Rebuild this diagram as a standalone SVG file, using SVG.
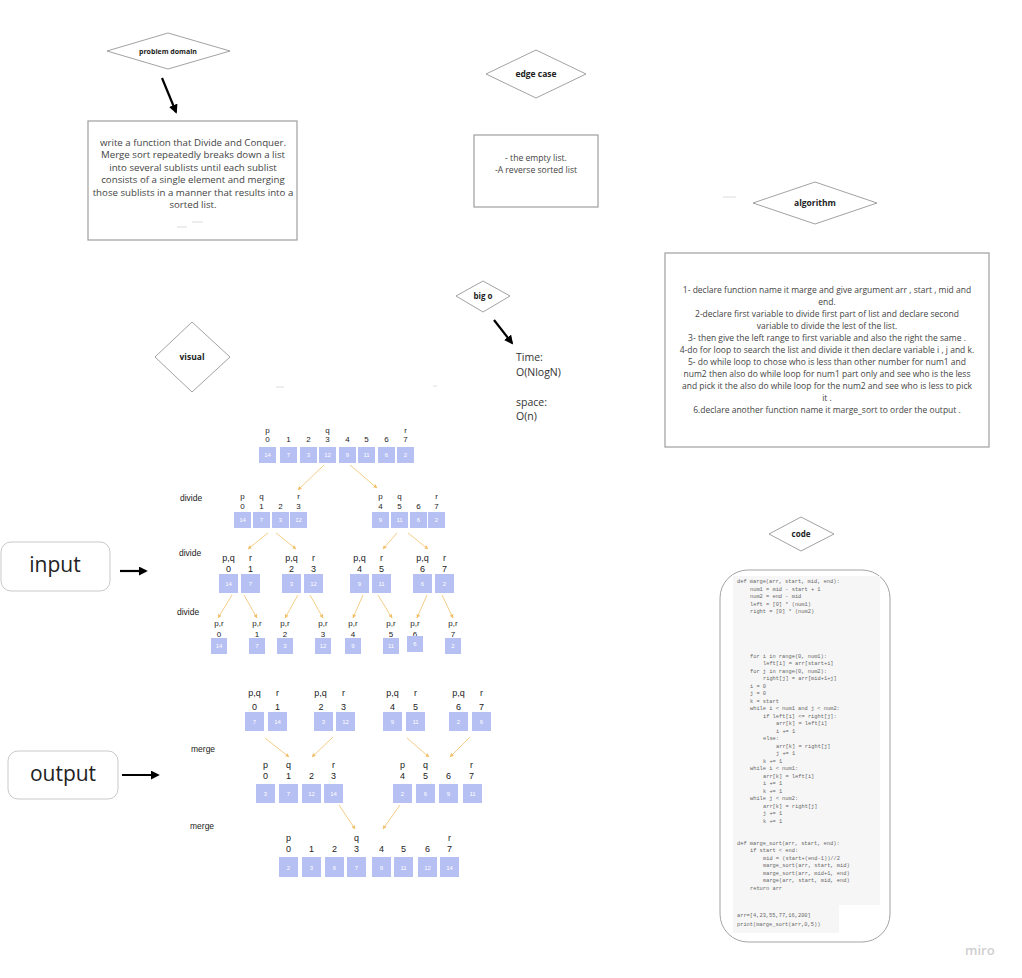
<svg xmlns="http://www.w3.org/2000/svg" width="1022" height="978" viewBox="0 0 1022 978">
<defs>
<marker id="ah" viewBox="0 0 10 10" refX="8" refY="5" markerWidth="9" markerHeight="9" markerUnits="userSpaceOnUse" orient="auto"><path d="M0,0 L10,5 L0,10 z" fill="#000"/></marker>
<marker id="oh" viewBox="0 0 10 10" refX="9" refY="5" markerWidth="4" markerHeight="4" markerUnits="userSpaceOnUse" orient="auto"><path d="M0,0 L10,5 L0,10 z" fill="#f3c06a"/></marker>
</defs>
<style>
.dm{fill:#fff;stroke:#8a8a8a;stroke-width:0.8}
.bx{fill:#fff;stroke:#a6a6a6;stroke-width:1.3}
.dt{font-family:"Open Sans",sans-serif;font-weight:bold;fill:#222;text-anchor:middle}
.tx{font-family:"Open Sans",sans-serif;fill:#444;text-anchor:middle}
.c{fill:#b6c0f3}
.cn{font-family:"Liberation Sans",sans-serif;font-size:6px;fill:#fff;text-anchor:middle}
.lb{font-family:"Liberation Sans",sans-serif;font-size:8px;fill:#222;text-anchor:middle}
.lg{font-family:"Liberation Sans",sans-serif;font-size:9px;fill:#222;text-anchor:middle}
.op{font-family:"Liberation Sans",sans-serif;font-size:8.5px;fill:#222}
.ba{stroke:#000;stroke-width:2.2;marker-end:url(#ah);fill:none}
.oa{stroke:#f3c06a;stroke-width:0.8;marker-end:url(#oh);fill:none}
.cd{font-family:"Liberation Mono",monospace;font-size:5.35px;fill:#666}
.fa{stroke:#dcdcdc;stroke-width:1}
.io{font-family:"Open Sans",sans-serif;font-size:21px;fill:#222;text-anchor:middle}
</style>
<rect width="1022" height="978" fill="#fff"/>

<g id="problem-domain">
<polygon class="dm" points="107,51 168,33 230,51 168,69"/>
<text class="dt" x="168" y="53.5" font-size="7">problem domain</text>
</g>
<g id="problem-text">
<rect class="bx" x="88" y="121" width="209" height="119"/>
<g class="tx" font-size="9.7">
<text x="193" y="145.5">write a function that Divide and Conquer.</text>
<text x="193" y="158">Merge sort repeatedly breaks down a list</text>
<text x="193" y="170.5">into several sublists until each sublist</text>
<text x="193" y="183">consists of a single element and merging</text>
<text x="193" y="195.5">those sublists in a manner that results into a</text>
<text x="193" y="208">sorted list.</text>
</g>
<line class="fa" x1="192" y1="222" x2="203" y2="222"/>
<line class="fa" x1="177" y1="227" x2="187" y2="227"/>
</g>

<g id="edge-case">
<polygon class="dm" points="486,74 536,50 586,74 536,98"/>
<text class="dt" x="536" y="77" font-size="8.5">edge case</text>
</g>
<g id="edge-text">
<rect class="bx" x="474" y="135" width="124" height="72"/>
<g class="tx" font-size="8.6">
<text x="536" y="161">- the empty list.</text>
<text x="536" y="172.5">-A reverse sorted list</text>
</g>
</g>
<line class="fa" x1="723" y1="197" x2="736" y2="197"/>

<g id="algorithm">
<polygon class="dm" points="753,203 815,182 877,203 815,224"/>
<text class="dt" x="815" y="206" font-size="8.5">algorithm</text>
</g>
<g id="algorithm-text">
<rect class="bx" x="665" y="253" width="324" height="194"/>
<g class="tx" font-size="8.5">
<text x="827" y="293">1- declare function name it marge and give argument arr , start , mid and</text>
<text x="827" y="305">end.</text>
<text x="827" y="316.5">2-declare first variable to divide first part of list and declare second</text>
<text x="827" y="328.5">variable to divide the lest of the list.</text>
<text x="827" y="341">3- then give the left range to first variable and also the right the same .</text>
<text x="827" y="353">4-do for loop to search the list and divide it then declare variable i , j and k.</text>
<text x="827" y="365">5- do while loop to chose who is less than other number for num1 and</text>
<text x="827" y="377">num2 then also do while loop for num1 part only and see who is the less</text>
<text x="827" y="389">and pick it the also do while loop for the num2 and see who is less to pick</text>
<text x="827" y="401">it .</text>
<text x="827" y="413">6.declare another function name it marge_sort to order the output .</text>
</g>
</g>

<g id="big-o">
<polygon class="dm" points="456,296 483,281 510,296 483,312"/>
<text class="dt" x="483" y="299" font-size="8">big o</text>
</g>
<g id="big-o-text" font-family="Open Sans, sans-serif" font-size="10.5" fill="#333">
<text x="516" y="361">Time:</text>
<text x="516" y="376">O(NlogN)</text>
<text x="516" y="406">space:</text>
<text x="516" y="420">O(n)</text>
</g>

<g id="visual">
<polygon class="dm" points="155,357 192,322 230,357 192,392"/>
<text class="dt" x="192" y="360" font-size="8.5">visual</text>
</g>
<line class="fa" x1="276" y1="387" x2="284" y2="387"/>
<line class="fa" x1="433" y1="386" x2="437" y2="386"/>

<g id="code-label">
<polygon class="dm" points="769,534 801,517 834,534 801,551"/>
<text class="dt" x="801" y="537" font-size="8">code</text>
</g>

<g id="input">
<rect x="1" y="542" width="109" height="49" rx="10" fill="#fff" stroke="#bbb" stroke-width="0.8"/>
<text class="io" x="55" y="572">input</text>
</g>
<g id="output">
<rect x="8" y="751" width="110" height="48" rx="10" fill="#fff" stroke="#bbb" stroke-width="0.8"/>
<text class="io" x="63" y="781">output</text>
</g>

<g id="labels">
<text class="op" x="180" y="501">divide</text>
<text class="op" x="179" y="556">divide</text>
<text class="op" x="177" y="615">divide</text>
<text class="op" x="191" y="752">merge</text>
<text class="op" x="190" y="829">merge</text>
</g>

<g id="row1">
<g class="lb"><text x="267.5" y="433">p</text><text x="327.5" y="433">q</text><text x="405.5" y="433">r</text>
<text x="267.5" y="442">0</text><text x="288.5" y="442">1</text><text x="308.5" y="442">2</text><text x="327.5" y="442">3</text><text x="347.5" y="442">4</text><text x="366.5" y="442">5</text><text x="386.5" y="442">6</text><text x="405.5" y="442">7</text></g>
<rect class="c" x="259" y="447" width="17" height="16"/><rect class="c" x="280" y="447" width="17" height="16"/><rect class="c" x="300" y="447" width="17" height="16"/><rect class="c" x="319" y="447" width="17" height="16"/><rect class="c" x="339" y="447" width="17" height="16"/><rect class="c" x="358" y="447" width="17" height="16"/><rect class="c" x="378" y="447" width="17" height="16"/><rect class="c" x="397" y="447" width="17" height="16"/>
<g class="cn"><text x="267.5" y="457">14</text><text x="288.5" y="457">7</text><text x="308.5" y="457">3</text><text x="327.5" y="457">12</text><text x="347.5" y="457">9</text><text x="366.5" y="457">11</text><text x="386.5" y="457">6</text><text x="405.5" y="457">2</text></g>
</g>

<g id="row2">
<g class="lb"><text x="242.5" y="499">p</text><text x="261.5" y="499">q</text><text x="298.5" y="499">r</text><text x="380.5" y="499">p</text><text x="399.5" y="499">q</text><text x="436.5" y="499">r</text>
<text x="242.5" y="509">0</text><text x="261.5" y="509">1</text><text x="280.5" y="509">2</text><text x="298.5" y="509">3</text><text x="380.5" y="509">4</text><text x="399.5" y="509">5</text><text x="418.5" y="509">6</text><text x="436.5" y="509">7</text></g>
<rect class="c" x="234" y="512" width="17" height="16"/><rect class="c" x="253" y="512" width="17" height="16"/><rect class="c" x="272" y="512" width="17" height="16"/><rect class="c" x="290" y="512" width="17" height="16"/><rect class="c" x="372" y="512" width="17" height="16"/><rect class="c" x="391" y="512" width="17" height="16"/><rect class="c" x="410" y="512" width="17" height="16"/><rect class="c" x="428" y="512" width="17" height="16"/>
<g class="cn"><text x="242.5" y="522">14</text><text x="261.5" y="522">7</text><text x="280.5" y="522">3</text><text x="298.5" y="522">12</text><text x="380.5" y="522">9</text><text x="399.5" y="522">11</text><text x="418.5" y="522">6</text><text x="436.5" y="522">2</text></g>
</g>

<g id="row3">
<g class="lg"><text x="228.5" y="561">p,q</text><text x="250.5" y="561">r</text><text x="291.5" y="561">p,q</text><text x="313.5" y="561">r</text><text x="359.5" y="561">p,q</text><text x="381.5" y="561">r</text><text x="422.5" y="561">p,q</text><text x="444.5" y="561">r</text>
<text x="228.5" y="572">0</text><text x="250.5" y="572">1</text><text x="291.5" y="572">2</text><text x="313.5" y="572">3</text><text x="359.5" y="572">4</text><text x="381.5" y="572">5</text><text x="422.5" y="572">6</text><text x="444.5" y="572">7</text></g>
<rect class="c" x="219" y="574" width="19" height="19"/><rect class="c" x="241" y="574" width="19" height="19"/><rect class="c" x="282" y="574" width="19" height="19"/><rect class="c" x="304" y="574" width="19" height="19"/><rect class="c" x="350" y="574" width="19" height="19"/><rect class="c" x="372" y="574" width="19" height="19"/><rect class="c" x="413" y="574" width="19" height="19"/><rect class="c" x="435" y="574" width="19" height="19"/>
<g class="cn"><text x="228.5" y="586">14</text><text x="250.5" y="586">7</text><text x="291.5" y="586">3</text><text x="313.5" y="586">12</text><text x="359.5" y="586">9</text><text x="381.5" y="586">11</text><text x="422.5" y="586">6</text><text x="444.5" y="586">2</text></g>
</g>

<g id="row4">
<g class="lb"><text x="219" y="626">p,r</text><text x="257" y="626">p,r</text><text x="285" y="626">p,r</text><text x="323" y="626">p,r</text><text x="353" y="626">p,r</text><text x="391" y="626">p,r</text><text x="415" y="626">p,r</text><text x="453" y="626">p,r</text>
<text x="219" y="636.5">0</text><text x="257" y="636.5">1</text><text x="285" y="636.5">2</text><text x="323" y="636.5">3</text><text x="353" y="636.5">4</text><text x="391" y="636.5">5</text><text x="415" y="636.5">6</text><text x="453" y="636.5">7</text></g>
<rect class="c" x="211" y="638" width="16" height="16"/><rect class="c" x="249" y="638" width="16" height="16"/><rect class="c" x="277" y="638" width="16" height="16"/><rect class="c" x="315" y="638" width="16" height="16"/><rect class="c" x="345" y="638" width="16" height="16"/><rect class="c" x="383" y="638" width="16" height="16"/><rect class="c" x="407" y="636" width="16" height="16"/><rect class="c" x="445" y="638" width="16" height="16"/>
<g class="cn"><text x="219" y="648">14</text><text x="257" y="648">7</text><text x="285" y="648">3</text><text x="323" y="648">12</text><text x="353" y="648">9</text><text x="391" y="648">11</text><text x="415" y="646">6</text><text x="453" y="648">2</text></g>
</g>

<g id="merge1">
<g class="lg"><text x="254.5" y="696">p,q</text><text x="277.5" y="696">r</text><text x="320.5" y="696">p,q</text><text x="343.5" y="696">r</text><text x="392.5" y="696">p,q</text><text x="415.5" y="696">r</text><text x="458.5" y="696">p,q</text><text x="481.5" y="696">r</text>
<text x="254.5" y="710">0</text><text x="277.5" y="710">1</text><text x="321" y="710">2</text><text x="343.5" y="710">3</text><text x="392.5" y="710">4</text><text x="415.5" y="710">5</text><text x="458.5" y="710">6</text><text x="481.5" y="710">7</text></g>
<rect class="c" x="245" y="712" width="19" height="19"/><rect class="c" x="268" y="712" width="19" height="19"/><rect class="c" x="314" y="712" width="19" height="19"/><rect class="c" x="336" y="712" width="19" height="19"/><rect class="c" x="383" y="712" width="19" height="19"/><rect class="c" x="406" y="712" width="19" height="19"/><rect class="c" x="449" y="712" width="19" height="19"/><rect class="c" x="472" y="712" width="19" height="19"/>
<g class="cn"><text x="254.5" y="724">7</text><text x="277.5" y="724">14</text><text x="323.5" y="724">3</text><text x="345.5" y="724">12</text><text x="392.5" y="724">9</text><text x="415.5" y="724">11</text><text x="458.5" y="724">2</text><text x="481.5" y="724">6</text></g>
</g>

<g id="merge2">
<g class="lg"><text x="265.5" y="768">p</text><text x="288.5" y="768">q</text><text x="333.5" y="768">r</text><text x="402.5" y="768">p</text><text x="425.5" y="768">q</text><text x="471.5" y="768">r</text>
<text x="265.5" y="779">0</text><text x="288.5" y="779">1</text><text x="311.5" y="779">2</text><text x="333.5" y="779">3</text><text x="402.5" y="779">4</text><text x="425.5" y="779">5</text><text x="448.5" y="779">6</text><text x="471.5" y="779">7</text></g>
<rect class="c" x="256" y="784" width="19" height="19"/><rect class="c" x="279" y="784" width="19" height="19"/><rect class="c" x="302" y="784" width="19" height="19"/><rect class="c" x="324" y="784" width="19" height="19"/><rect class="c" x="393" y="784" width="19" height="19"/><rect class="c" x="416" y="784" width="19" height="19"/><rect class="c" x="439" y="784" width="19" height="19"/><rect class="c" x="463" y="784" width="19" height="19"/>
<g class="cn"><text x="265.5" y="796">3</text><text x="288.5" y="796">7</text><text x="311.5" y="796">12</text><text x="333.5" y="796">14</text><text x="402.5" y="796">2</text><text x="425.5" y="796">6</text><text x="448.5" y="796">9</text><text x="472.5" y="796">11</text></g>
</g>

<g id="merge3">
<g class="lg"><text x="288.5" y="841">p</text><text x="356.5" y="841">q</text><text x="449.5" y="841">r</text>
<text x="288.5" y="852">0</text><text x="311.5" y="852">1</text><text x="334.5" y="852">2</text><text x="356.5" y="852">3</text><text x="381.5" y="852">4</text><text x="403.5" y="852">5</text><text x="427.5" y="852">6</text><text x="449.5" y="852">7</text></g>
<rect class="c" x="279" y="857" width="19" height="20"/><rect class="c" x="302" y="857" width="19" height="20"/><rect class="c" x="325" y="857" width="19" height="20"/><rect class="c" x="347" y="857" width="19" height="20"/><rect class="c" x="372" y="857" width="19" height="20"/><rect class="c" x="394" y="857" width="19" height="20"/><rect class="c" x="418" y="857" width="19" height="20"/><rect class="c" x="440" y="857" width="19" height="20"/>
<g class="cn"><text x="288.5" y="869.5">2</text><text x="311.5" y="869.5">3</text><text x="334.5" y="869.5">6</text><text x="356.5" y="869.5">7</text><text x="381.5" y="869.5">9</text><text x="403.5" y="869.5">11</text><text x="427.5" y="869.5">12</text><text x="449.5" y="869.5">14</text></g>
</g>

<g id="code">
<rect x="720" y="570" width="170" height="372" rx="28" fill="#fff" stroke="#999" stroke-width="0.9"/>
<path d="M733,576 H880 V905 H839 V933 H733 Z" fill="#f6f6f6"/>
<g class="cd">
<text x="737" y="583">def marge(arr, start, mid, end):</text>
<text x="750" y="590.5">num1 = mid - start + 1</text>
<text x="750" y="598">num2 = end - mid</text>
<text x="750" y="605.5">left = [0] * (num1)</text>
<text x="750" y="613">right = [0] * (num2)</text>
<text x="750" y="657.5">for i in range(0, num1):</text>
<text x="763" y="665">left[i] = arr[start+i]</text>
<text x="750" y="672.5">for j in range(0, num2):</text>
<text x="763" y="680">right[j] = arr[mid+1+j]</text>
<text x="750" y="687.5">i = 0</text>
<text x="750" y="695">j = 0</text>
<text x="750" y="702.5">k = start</text>
<text x="750" y="710">while i &lt; num1 and j &lt; num2:</text>
<text x="763" y="717.5">if left[i] &lt;= right[j]:</text>
<text x="776" y="725">arr[k] = left[i]</text>
<text x="776" y="732.5">i += 1</text>
<text x="763" y="740">else:</text>
<text x="776" y="747.5">arr[k] = right[j]</text>
<text x="776" y="755">j += 1</text>
<text x="763" y="762.5">k += 1</text>
<text x="750" y="770">while i &lt; num1:</text>
<text x="763" y="777.5">arr[k] = left[i]</text>
<text x="763" y="785">i += 1</text>
<text x="763" y="792.5">k += 1</text>
<text x="750" y="800">while j &lt; num2:</text>
<text x="763" y="807.5">arr[k] = right[j]</text>
<text x="763" y="815">j += 1</text>
<text x="763" y="822.5">k += 1</text>
<text x="737" y="844.5">def marge_sort(arr, start, end):</text>
<text x="750" y="852">if start &lt; end:</text>
<text x="763" y="859.5">mid = (start+(end-1))//2</text>
<text x="763" y="867">marge_sort(arr, start, mid)</text>
<text x="763" y="874.5">marge_sort(arr, mid+1, end)</text>
<text x="763" y="882">marge(arr, start, mid, end)</text>
<text x="750" y="889.5">return arr</text>
<text x="737" y="917">arr=[4,23,55,77,16,200]</text>
<text x="737" y="926">print(marge_sort(arr,0,5))</text>
</g>
</g>

<g id="connectors">
<line class="ba" x1="162" y1="78" x2="176" y2="112"/>
<line class="ba" x1="494" y1="320" x2="512" y2="343"/>
<line class="ba" x1="120" y1="571" x2="146" y2="571"/>
<line class="ba" x1="122" y1="775" x2="158" y2="775"/>
<line class="oa" x1="324" y1="465" x2="298" y2="490"/>
<line class="oa" x1="350" y1="465" x2="377" y2="488"/>
<line class="oa" x1="268" y1="533" x2="248" y2="549"/>
<line class="oa" x1="276" y1="533" x2="296" y2="549"/>
<line class="oa" x1="397" y1="533" x2="383" y2="549"/>
<line class="oa" x1="408" y1="533" x2="428" y2="549"/>
<line class="oa" x1="232" y1="595" x2="218" y2="618"/>
<line class="oa" x1="244" y1="595" x2="257" y2="618"/>
<line class="oa" x1="298" y1="595" x2="285" y2="618"/>
<line class="oa" x1="310" y1="595" x2="323" y2="618"/>
<line class="oa" x1="363" y1="595" x2="353" y2="618"/>
<line class="oa" x1="378" y1="595" x2="392" y2="618"/>
<line class="oa" x1="427" y1="595" x2="417" y2="618"/>
<line class="oa" x1="442" y1="595" x2="453" y2="618"/>
<line class="oa" x1="265" y1="738" x2="289" y2="757"/>
<line class="oa" x1="333" y1="737" x2="312" y2="757"/>
<line class="oa" x1="407" y1="738" x2="429" y2="757"/>
<line class="oa" x1="470" y1="737" x2="450" y2="757"/>
<line class="oa" x1="339" y1="805" x2="355" y2="829"/>
<line class="oa" x1="400" y1="805" x2="383" y2="829"/>
</g>

<text x="965" y="955" font-family="Open Sans, sans-serif" font-size="13" font-weight="600" fill="#cfcfcf">miro</text>
</svg>
